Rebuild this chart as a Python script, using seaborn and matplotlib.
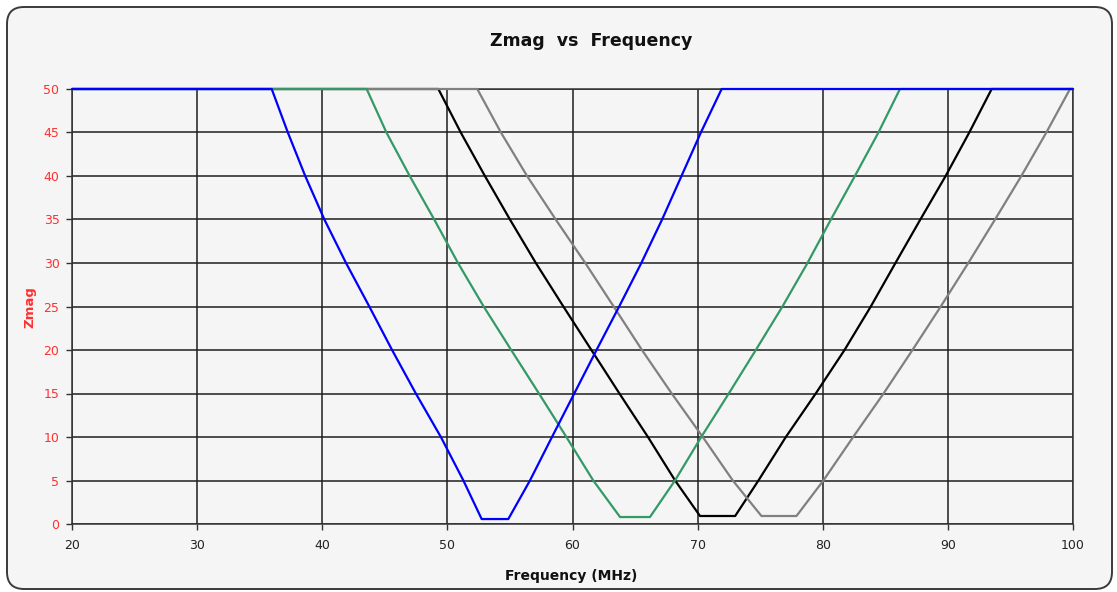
import matplotlib
matplotlib.use("Agg")
import matplotlib.pyplot as plt
from matplotlib.patches import FancyBboxPatch
import seaborn as sns
import pandas as pd

# ---- data ----
blue_freq = [20, 35.96, 37.25, 38.64, 40.17, 41.9, 43.76, 45.58, 47.48, 49.48, 51.28, 52.74,
             54.87, 56.6, 58.36, 60.14, 61.92, 63.73, 65.5, 67.16, 68.71, 70.26, 71.92, 100]
blue_zmag = [50, 50, 45, 40, 35, 30, 25, 20, 15, 10, 5, 0.57,
             0.57, 5, 10, 15, 20, 25, 30, 35, 40, 45, 50, 50]

green_freq = [20, 43.55, 45.13, 46.99, 48.95, 50.85, 52.9, 55.1, 57.32, 59.51, 61.66, 63.8,
              66.19, 68.19, 70.29, 72.49, 74.65, 76.78, 78.78, 80.65, 82.57, 84.45, 86.17, 100]
green_zmag = [50, 50, 45, 40, 35, 30, 25, 20, 15, 10, 5, 0.8,
              0.8, 5, 10, 15, 20, 25, 30, 35, 40, 45, 50, 50]

black_freq = [20, 49.28, 51.07, 53.0, 55.0, 57.07, 59.27, 61.51, 63.75, 66.03, 68.2, 70.19,
              73.0, 74.86, 77.05, 79.44, 81.74, 83.84, 85.81, 87.8, 89.82, 91.71, 93.5, 100]
black_zmag = [50, 50, 45, 40, 35, 30, 25, 20, 15, 10, 5, 0.92,
              0.92, 5, 10, 15, 20, 25, 30, 35, 40, 45, 50, 50]

gray_freq = [20, 52.39, 54.28, 56.37, 58.66, 61.02, 63.29, 65.55, 67.93, 70.41, 72.81, 75.1,
             77.9, 80.05, 82.43, 84.86, 87.17, 89.43, 91.63, 93.77, 95.87, 97.87, 99.76, 100]
gray_zmag = [50, 50, 45, 40, 35, 30, 25, 20, 15, 10, 5, 0.92,
             0.92, 5, 10, 15, 20, 25, 30, 35, 40, 45, 50, 50]

x_ticks = [20, 30, 40, 50, 60, 70, 80, 90, 100]
y_ticks = [0, 5, 10, 15, 20, 25, 30, 35, 40, 45, 50]

series_order = ["black", "gray", "green", "blue"]   # drawing order (blue on top)
series_colors = {"black": "#000000", "gray": "#808080", "green": "#339966", "blue": "#0000ff"}

frames = []
for name, fr, zm in [("black", black_freq, black_zmag), ("gray", gray_freq, gray_zmag),
                     ("green", green_freq, green_zmag), ("blue", blue_freq, blue_zmag)]:
    frames.append(pd.DataFrame({"Frequency": fr, "Zmag": zm, "series": name}))
df = pd.concat(frames, ignore_index=True)

# ---- figure ----
sns.set_theme(style="white")
plt.rcParams["font.family"] = ["DejaVu Sans"]

fig = plt.figure(figsize=(11.17, 5.92), dpi=100, facecolor="white")

# rounded outer chart border
border = FancyBboxPatch((0.07, 0.03), 11.05, 5.82,
                        boxstyle="round,pad=0,rounding_size=0.17",
                        transform=fig.dpi_scale_trans, facecolor="#f5f5f5",
                        edgecolor="#3a3a3a", linewidth=1.4, zorder=-5)
fig.patches.append(border)

ax = fig.add_axes([72 / 1117, (592 - 524) / 592, (1073 - 72) / 1117, (524 - 89) / 592])
ax.set_zorder(2)
ax.set_facecolor("#f5f5f5")

sns.lineplot(data=df, x="Frequency", y="Zmag", hue="series", hue_order=series_order,
             palette=series_colors, sort=False, estimator=None, legend=False,
             linewidth=1.6, ax=ax)
for ln in ax.lines:
    ln.set_clip_on(False)
    ln.set_zorder(3)

ax.set_xlim(20, 100)
ax.set_ylim(0, 50)
ax.set_xticks(x_ticks)
ax.set_yticks(y_ticks)
ax.set_axisbelow(True)
ax.grid(True, color="#1e1e1e", linewidth=1.1)
for sp in ax.spines.values():
    sp.set_color("#333333")
    sp.set_linewidth(1.1)

ax.tick_params(axis="y", colors="#333333", labelcolor="#ff3030", length=4, width=1,
               pad=5, labelsize=9, left=True, direction="out")
ax.tick_params(axis="x", colors="#333333", labelcolor="#222222", length=4, width=1,
               pad=7, labelsize=9, bottom=True, direction="out")
ax.set_xlabel("")
ax.set_ylabel("")

fig.text(591 / 1117, 1 - 41 / 592, "Zmag  vs  Frequency", ha="center", va="center",
         fontsize=12.5, fontweight="bold", color="#111111")
fig.text(571 / 1117, 1 - 576 / 592, "Frequency (MHz)", ha="center", va="center",
         fontsize=10, fontweight="bold", color="#111111")
fig.text(30 / 1117, 1 - 307 / 592, "Zmag", ha="center", va="center", rotation=90,
         fontsize=9.5, fontweight="bold", color="#ff3030")

fig.savefig("out.png", dpi=100, facecolor="white")
